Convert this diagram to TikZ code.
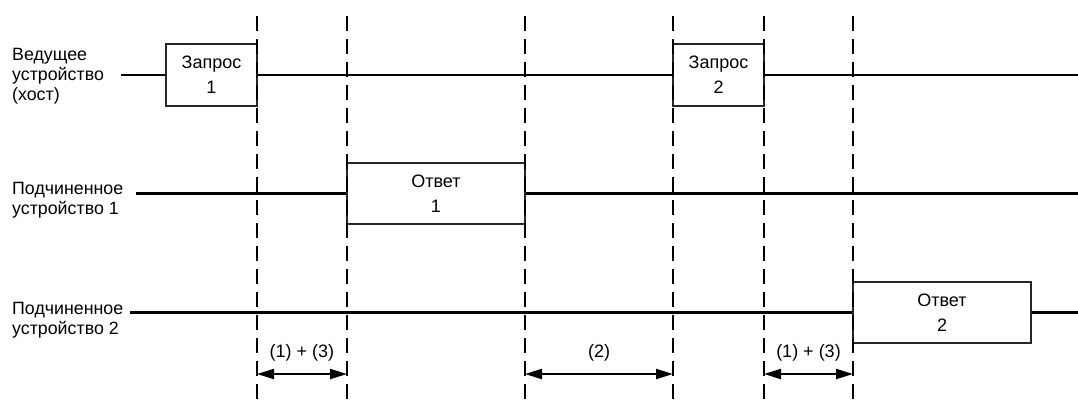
\documentclass[tikz,border=0pt]{standalone}
\usepackage{fontspec}
\setmainfont{Liberation Sans}
\usetikzlibrary{arrows.meta}

\begin{document}
\begin{tikzpicture}[x=1bp,y=-1bp,
  txt/.style={inner sep=0pt, font=\fontsize{17.8bp}{20bp}\selectfont, align=left},
  frame/.style={draw=black!85, line width=1.1bp, inner sep=0pt, align=center,
                font=\fontsize{18bp}{25bp}\selectfont},
  sig/.style={line width=2.2bp, black},
  marker/.style={line width=2.2bp, black, dash pattern=on 15bp off 8bp, dash phase=-2bp},
  span/.style={line width=2.2bp, black, {Triangle[length=17bp,width=10bp]}-{Triangle[length=17bp,width=10bp]}},
  spanlbl/.style={inner sep=0pt, font=\fontsize{18bp}{20bp}\selectfont}]

\useasboundingbox (0,0) rectangle (1078,400);

% time markers
\foreach \n/\x in {1/257, 2/347, 3/525, 4/673, 5/764, 6/853} {
  \coordinate (t\n) at (\x,14);
  \coordinate (b\n) at (\x,400);
  \coordinate (m\n) at (\x,374);
}

% row labels
\node[txt, anchor=north west] (lhost) at (12,48) {Ведущее\\устройство\\(хост)};
\node[txt, anchor=north west] (ls1) at (12,182) {Подчиненное\\устройство 1};
\node[txt, anchor=north west] (ls2) at (12,302) {Подчиненное\\устройство 2};

% frames
\node[frame, minimum width=91bp, minimum height=62bp] (q1) at (211.5,75) {Запрос\\1};
\node[frame, minimum width=91bp, minimum height=62bp] (q2) at (718.5,75) {Запрос\\2};
\node[frame, minimum width=178bp, minimum height=61bp] (r1) at (436,193.5) {Ответ\\1};
\node[frame, minimum width=178bp, minimum height=61bp] (r2) at (942,312.5) {Ответ\\2};

% free ends of the bus lines
\coordinate (h0) at (121,75);  \coordinate (h1) at (1078,75);
\coordinate (s10) at (136,193.5); \coordinate (s11) at (1078,193.5);
\coordinate (s20) at (130,312.5); \coordinate (s21) at (1078,312.5);

% bus lines
\draw[sig] (h0) -- (q1.west);
\draw[sig] (q1.east) -- (q2.west);
\draw[sig] (q2.east) -- (h1);
\draw[sig] (s10) -- (r1.west);
\draw[sig] (r1.east) -- (s11);
\draw[sig] (s20) -- (r2.west);
\draw[sig] (r2.east) -- (s21);

% dashed markers
\foreach \n in {1,...,6} { \draw[marker] (t\n) -- (b\n); }

% intervals
\draw[span] (m1) -- (m2);
\draw[span] (m3) -- (m4);
\draw[span] (m5) -- (m6);
\node[spanlbl] (d1) at (302,353) {(1) + (3)};
\node[spanlbl] (d2) at (599,353) {(2)};
\node[spanlbl] (d3) at (808.5,353) {(1) + (3)};

\end{tikzpicture}
\end{document}
